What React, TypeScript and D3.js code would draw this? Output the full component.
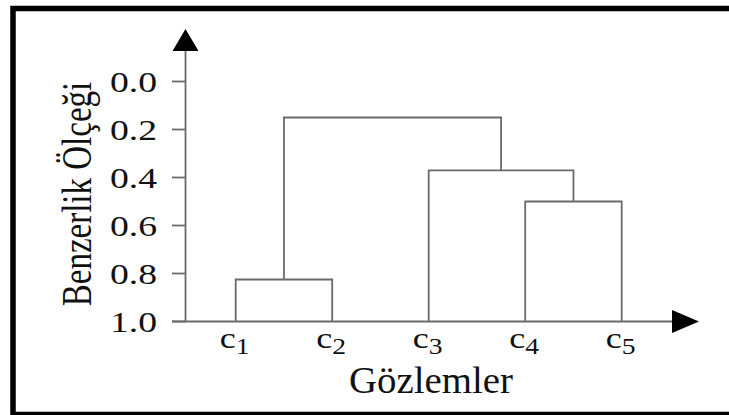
import React from "react";
import * as d3 from "d3";

const leaves = ["1", "2", "3", "4", "5"];
// merges: [leftChild, rightChild, height]; leaves are 0..4, merged nodes 5..
const mergeLeft = [0, 3, 2, 5];
const mergeRight = [1, 4, 6, 7];
const mergeHeight = [0.825, 0.5, 0.37, 0.15];
const yTicks = [0, 0.2, 0.4, 0.6, 0.8, 1.0];
const yLabel = "Benzerlik Ölçeği";
const xLabel = "Gözlemler";

const W = 729;
const H = 415;
const serif = "'Liberation Serif', 'Times New Roman', serif";
const lineColor = "#6a6a6a";

export default function App() {
  const y = d3.scaleLinear().domain([0, 1]).range([81.5, 321.5]);
  const x = d3.scalePoint<number>().domain(leaves.map((_, i) => i)).range([235.7, 621.7]);

  const nodeX: number[] = leaves.map((_, i) => x(i) as number);
  const nodeH: number[] = leaves.map(() => 1);
  const links: string[] = [];
  mergeLeft.forEach((l, k) => {
    const r = mergeRight[k];
    const h = mergeHeight[k];
    const xl = nodeX[l];
    const xr = nodeX[r];
    const p = d3.path();
    p.moveTo(xl, y(nodeH[l]));
    p.lineTo(xl, y(h));
    p.lineTo(xr, y(h));
    p.lineTo(xr, y(nodeH[r]));
    links.push(p.toString());
    nodeX.push((xl + xr) / 2);
    nodeH.push(h);
  });

  const axisX = 185.5;
  const axisY = y(1);
  const fmt = d3.format(".1f");

  return (
    <svg
      width={W}
      height={H}
      style={{ position: "absolute", left: 0, top: 0, display: "block", background: "#fff" }}
    >
      <rect x={0} y={0} width={W} height={H} fill="#fff" />
      <rect x={13} y={8.5} width={740} height={406} fill="none" stroke="#000" strokeWidth={5.5} />

      {/* dendrogram */}
      {links.map((d, i) => (
        <path key={i} d={d} fill="none" stroke={lineColor} strokeWidth={1.8} />
      ))}

      {/* y axis */}
      <line x1={axisX} y1={51} x2={axisX} y2={axisY} stroke={lineColor} strokeWidth={1.8} />
      <path d={`M${axisX},29 L${axisX + 13},51 L${axisX - 13},51 Z`} fill="#000" />
      {yTicks.map((t) => (
        <g key={t}>
          <line x1={172} x2={axisX} y1={y(t)} y2={y(t)} stroke={lineColor} strokeWidth={1.8} />
          <text
            transform={`translate(157,${y(t)}) scale(1.3,1)`}
            dy="0.35em"
            textAnchor="end"
            fontFamily={serif}
            fontSize={29}
            fill="#111"
          >
            {fmt(t)}
          </text>
        </g>
      ))}

      {/* x axis */}
      <line x1={172} y1={axisY} x2={672} y2={axisY} stroke={lineColor} strokeWidth={1.8} />
      <path d={`M699,${axisY} L672,${axisY - 11.5} L672,${axisY + 11.5} Z`} fill="#000" />
      {leaves.map((s, i) => (
        <text
          key={s}
          transform={`translate(${(x(i) as number) - 1},348) scale(1.2,1)`}
          textAnchor="middle"
          fontFamily={serif}
          fontSize={30}
          fill="#111"
        >
          c
          <tspan fontSize={23} dy={6}>
            {s}
          </tspan>
        </text>
      ))}

      <text
        transform="translate(431,393) scale(1.05,1)"
        textAnchor="middle"
        fontFamily={serif}
        fontSize={37}
        fill="#111"
      >
        {xLabel}
      </text>
      <text
        transform={`translate(91,194) rotate(-90) scale(1,1.25)`}
        textAnchor="middle"
        fontFamily={serif}
        fontSize={33}
        fill="#111"
      >
        {yLabel}
      </text>
    </svg>
  );
}
